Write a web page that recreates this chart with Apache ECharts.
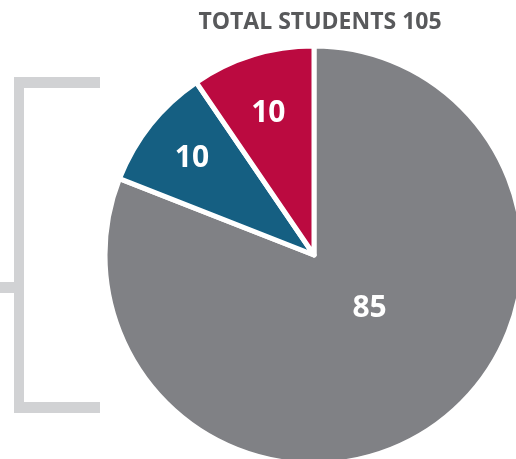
<!DOCTYPE html>
<html><head><meta charset="utf-8">
<script src="https://cdn.jsdelivr.net/npm/echarts@6/dist/echarts.min.js"></script>
<style>html,body{margin:0;padding:0;background:#fff}#c{width:516px;height:459px}</style>
</head><body><div id="c"></div>
<script>
const categories = ['Gray', 'Blue', 'Red'];
const values = [85, 10, 10];
const colors = ['#808185', '#155f82', '#bb0a40'];
const titleText = 'TOTAL STUDENTS 105';
const labelOffsets = [[-5, -35], [-38, -30], [-14, -39]];

const chart = echarts.init(document.getElementById('c'), null, {renderer: 'canvas'});
const font = '"Open Sans", "Noto Sans", sans-serif';
chart.setOption({
  animation: false,
  title: {
    text: titleText, left: 315, top: 6, textAlign: 'center',
    textStyle: {fontFamily: font, fontWeight: 'bold', fontSize: 23, color: '#58595b'}
  },
  graphic: [
    {type: 'rect', shape: {x: 14, y: 77, width: 10, height: 336}, style: {fill: '#d1d2d4'}},
    {type: 'rect', shape: {x: 14, y: 77, width: 86, height: 11}, style: {fill: '#d1d2d4'}},
    {type: 'rect', shape: {x: 14, y: 402, width: 86, height: 11}, style: {fill: '#d1d2d4'}},
    {type: 'rect', shape: {x: 0, y: 282, width: 14, height: 11}, style: {fill: '#d1d2d4'}}
  ],
  series: [{
    type: 'pie',
    center: [314, 255],
    radius: [0, 209],
    startAngle: 90,
    clockwise: true,
    silent: true,
    itemStyle: {borderColor: '#fff', borderWidth: 5},
    label: {
      position: 'inside', formatter: '{c}', color: '#fff',
      fontFamily: font, fontWeight: 'bold', fontSize: 30
    },
    labelLine: {show: false},
    data: categories.map((n, i) => ({
      name: n, value: values[i],
      itemStyle: {color: colors[i]},
      label: {offset: labelOffsets[i]}
    }))
  }]
});
</script></body></html>
